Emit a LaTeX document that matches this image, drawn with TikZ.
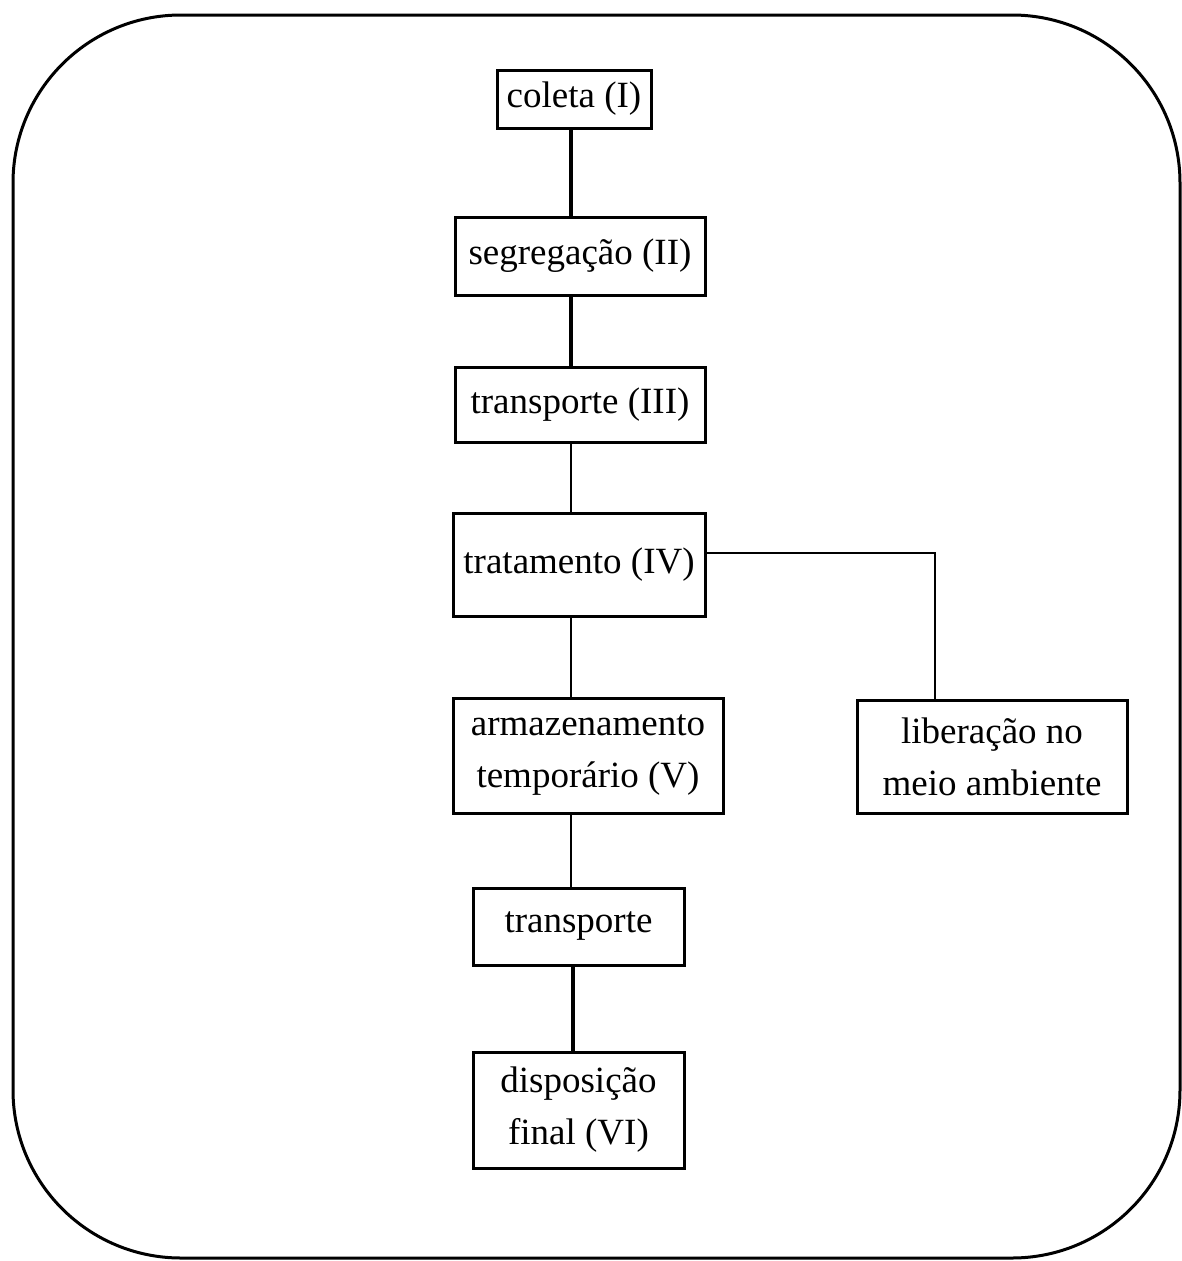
\documentclass[tikz,border=0pt]{standalone}
\usepackage{fontspec}
\setmainfont{Liberation Serif}
\begin{document}
\begin{tikzpicture}[x=1pt,y=-1pt,
  box/.style={draw=black, line width=3pt, inner sep=0pt, align=center,
    font=\fontsize{37}{52}\selectfont},
  thick link/.style={draw=black, line width=3.5pt},
  thin link/.style={draw=black, line width=2pt}]
\useasboundingbox (0,0) rectangle (1182,1261);
% outer frame
\draw[line width=3pt, rounded corners=168pt] (13,15) rectangle (1180,1258);
% boxes
\node[box, minimum width=154pt, minimum height=58pt] (col) at (574,99) {coleta (I)};
\node[box, minimum width=250pt, minimum height=78pt] (seg) at (580,256) {segregação (II)};
\node[box, minimum width=250pt, minimum height=75pt] (tr3) at (580,404.5) {transporte (III)};
\node[box, minimum width=252pt, minimum height=103pt] (trat) at (579,564.5) {tratamento (IV)};
\node[box, minimum width=270pt, minimum height=115pt] (arm) at (588,755.5) {armazenamento\\temporário (V)};
\node[box, minimum width=270pt, minimum height=113pt] (lib) at (992,756.5) {liberação no\\meio ambiente};
\node[box, minimum width=211pt, minimum height=77pt] (trp) at (578.5,926.5) {transporte};
\node[box, minimum width=211pt, minimum height=116pt] (disp) at (578.5,1110) {disposição\\final (VI)};
% spine coordinates
\coordinate (sa) at (571,0);
\coordinate (sb) at (573,0);
\coordinate (branch) at (935,553);
% connectors
\draw[thick link] (col.south -| sa) -- (seg.north -| sa);
\draw[thick link] (seg.south -| sa) -- (tr3.north -| sa);
\draw[thin link] (tr3.south -| sa) -- (trat.north -| sa);
\draw[thin link] (trat.south -| sa) -- (arm.north -| sa);
\draw[thin link] (arm.south -| sa) -- (trp.north -| sa);
\draw[thick link] (trp.south -| sb) -- (disp.north -| sb);
\draw[thin link] (trat.east |- branch) -- (branch) -- (lib.north -| branch);
\end{tikzpicture}
\end{document}
